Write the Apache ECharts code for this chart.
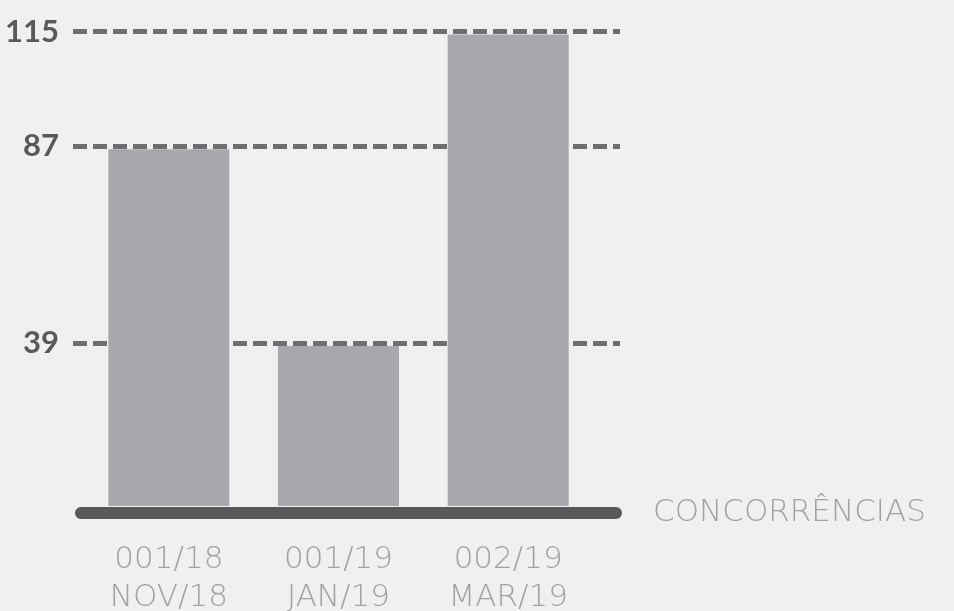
<!DOCTYPE html>
<html>
<head>
    <meta charset="utf-8">
    <title>Concorrências</title>
    <script src="https://cdn.jsdelivr.net/npm/echarts@6/dist/echarts.min.js"></script>
    <style>
        html, body { margin: 0; padding: 0; background: #f0f0f0; }
        #chart { width: 954px; height: 611px; }
    </style>
</head>
<body>
<div id="chart"></div>
<script>
    // data
    const codes = ['001/18', '001/19', '002/19'];
    const months = ['NOV/18', 'JAN/19', 'MAR/19'];
    const values = [87, 39, 115];
    const refLines = [115, 87, 39];
    const axisName = 'CONCORRÊNCIAS';

    const categories = codes.map((c, i) => c + '\n' + months[i]);
    const lightFont = '"DejaVu Sans", sans-serif';
    const boldFont = 'Lato, "Open Sans", sans-serif';

    const chart = echarts.init(document.getElementById('chart'));

    const option = {
        backgroundColor: '#f0f0f0',
        animation: false,
        grid: [
            // bars
            { left: 84, right: 361, top: 14, bottom: 105, outerBoundsMode: 'none' },
            // dashed reference lines (sit a few px above bar tops)
            { left: 73, right: 334, top: 11, bottom: 108, outerBoundsMode: 'none' },
            // thick baseline
            { left: 81, right: 338, top: 14, bottom: 98, outerBoundsMode: 'none' }
        ],
        xAxis: [
            {
                gridIndex: 0,
                type: 'category',
                data: categories,
                axisLine: { show: false },
                axisTick: { show: false },
                axisLabel: {
                    margin: 35,
                    color: '#a0a1a3',
                    fontSize: 31,
                    lineHeight: 38,
                    fontFamily: lightFont,
                    fontWeight: 300
                }
            },
            {
                gridIndex: 1,
                type: 'category',
                data: categories,
                show: false
            },
            {
                gridIndex: 2,
                type: 'category',
                data: [''],
                axisLine: {
                    show: true,
                    lineStyle: { color: '#58585a', width: 12, cap: 'round' }
                },
                axisTick: { show: false },
                axisLabel: { show: false },
                name: axisName,
                nameLocation: 'end',
                nameGap: 37,
                nameTextStyle: {
                    color: '#a0a1a3',
                    fontSize: 31,
                    fontFamily: lightFont,
                    fontWeight: 300
                }
            }
        ],
        yAxis: [
            { gridIndex: 0, type: 'value', min: 0, max: 120, show: false },
            { gridIndex: 1, type: 'value', min: 0, max: 120, show: false },
            { gridIndex: 2, type: 'value', min: 0, max: 120, show: false }
        ],
        series: [
            {
                type: 'line',
                xAxisIndex: 1,
                yAxisIndex: 1,
                z: 1,
                silent: true,
                data: values.map(() => null),
                markLine: {
                    z: 1,
                    silent: true,
                    symbol: 'none',
                    lineStyle: { color: '#6d6e70', width: 5, type: [14, 6] },
                    label: {
                        position: 'start',
                        distance: 14,
                        color: '#58595b',
                        fontSize: 31,
                        fontWeight: 'bold',
                        fontFamily: boldFont,
                        formatter: p => p.value
                    },
                    emphasis: { disabled: true },
                    data: refLines.map(v => ({ yAxis: v }))
                }
            },
            {
                type: 'bar',
                xAxisIndex: 0,
                yAxisIndex: 0,
                z: 3,
                barWidth: 121,
                silent: true,
                itemStyle: { color: '#a7a8ab' },
                data: values
            }
        ]
    };

    chart.setOption(option);
</script>
</body>
</html>
